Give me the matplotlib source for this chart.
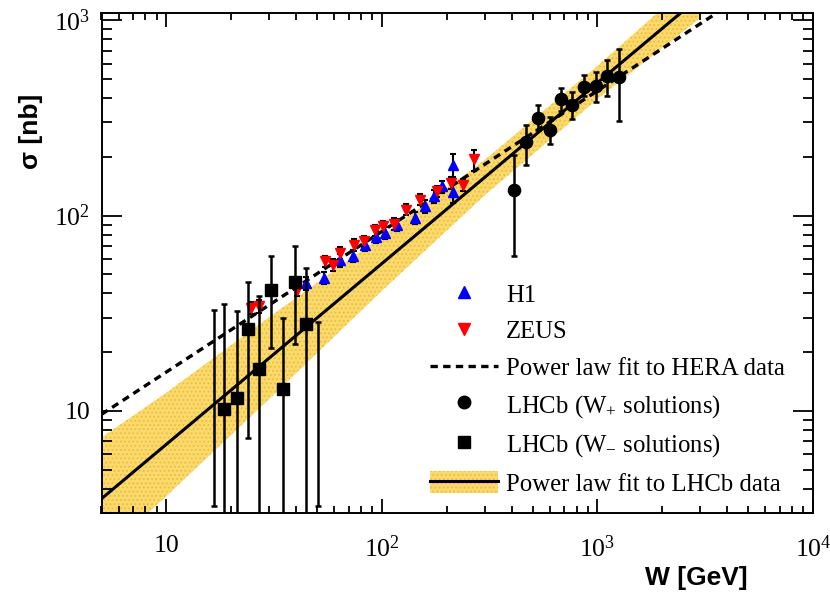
import numpy as np
import matplotlib
matplotlib.use('Agg')
import matplotlib.pyplot as plt
from matplotlib.lines import Line2D
from matplotlib.patches import Patch
from matplotlib.ticker import FixedLocator, FixedFormatter, LogLocator, NullFormatter

plt.rcParams['font.family'] = ['Liberation Serif', 'DejaVu Serif']
plt.rcParams['mathtext.fontset'] = 'custom'
plt.rcParams['mathtext.rm'] = 'Liberation Serif'
plt.rcParams['mathtext.it'] = 'Liberation Serif:italic'
plt.rcParams['mathtext.bf'] = 'Liberation Serif:bold'
plt.rcParams['hatch.linewidth'] = 0.8

# H1 measurements
h1_w = [44.5, 54.1, 64.1, 73.6, 83.7, 93.8, 103.6, 117.7, 141.7, 158.5, 174.6, 190.9, 213.9, 213.9]
h1_sigma = [45.2, 48.0, 59.0, 62.4, 71.0, 77.8, 81.5, 89.9, 97.3, 111.6, 125.6, 141.2, 182.5, 131.6]
h1_err = [3.5, 3.5, 4.5, 4.5, 5.0, 5.5, 6.0, 6.5, 7.0, 8.0, 9.0, 10.0, 24.0, 16.0]

# ZEUS measurements
zeus_w = [24.7, 27.0, 40.4, 54.5, 59.2, 64.1, 73.9, 82.8, 92.9, 100.7, 114.0, 129.2,
          150.3, 181.0, 208.5, 239.0, 267.0]
zeus_sigma = [33.7, 34.3, 41.8, 58.4, 56.1, 64.4, 71.0, 73.8, 84.1, 88.1, 91.0, 107.3,
              120.7, 133.0, 147.0, 144.0, 193.8]
zeus_err = [2.5, 2.5, 3.0, 4.0, 4.0, 4.5, 5.0, 5.0, 5.5, 6.0, 6.5, 7.0, 8.0, 9.0, 10.0, 10.0, 24.0]

# LHCb W+ solutions
wplus_w = [410, 468, 530, 600, 675, 765, 867, 982, 1111, 1256]
wplus_sigma = [135, 238, 315, 275, 396, 370, 456, 463, 517, 511]
wplus_lo = [62.4, 182, 275, 233, 342, 314, 408, 380, 408, 304]
wplus_hi = [205, 290, 369, 320, 451, 428, 523, 542, 624, 714]

# LHCb W- solutions (nan = central value off scale)
wminus_w = [16.6, 18.6, 21.2, 24.0, 27.0, 30.6, 34.9, 39.5, 44.5, 50.4]
wminus_sigma = [np.nan, 10.2, 11.7, 26.4, 16.4, 41.5, 13.0, 45.9, 27.7, np.nan]
wminus_lo = [3.25, 1.0, 1.0, 7.27, 1.0, 21.0, 1.0, 21.9, 1.0, 3.25]
wminus_hi = [32.7, 35.4, 32.6, 45.7, 38.6, 61.9, 29.9, 70.2, 53.6, 28.4]

# power law fits (end points) and LHCb fit band
hera_fit_w = [5, 4000]
hera_fit_sigma = [9.6, 1182]
lhcb_fit_w = [5, 3000]
lhcb_fit_sigma = [3.55, 1324]
band_w = [5, 10, 30, 100, 300, 1000, 3000]
band_lo = [1.8, 3.66, 11.5, 41.2, 127, 395, 1028]
band_hi = [7.3, 12.4, 30.2, 78.5, 193, 584, 1706]

x_ticks = [10, 100, 1000, 10000]
x_labels = ['10', '$10^{2}$', '$10^{3}$', '$10^{4}$']
y_ticks = [10, 100, 1000]
y_labels = ['10', '$10^{2}$', '$10^{3}$']

fig = plt.figure(figsize=(8.3, 5.97), dpi=100)
ax = fig.add_axes([101.5 / 830, 84 / 597, 711.5 / 830, 500 / 597])
ax.set_xscale('log')
ax.set_yscale('log')
ax.set_xlim(5, 1e4)
ax.set_ylim(3, 1090)

band_face = '#FAD970'
band_hatch = '#F2BE2A'
ax.fill_between(band_w, band_lo, band_hi, facecolor=band_face, edgecolor=band_hatch,
                hatch='....', linewidth=0, zorder=1)
ax.plot(lhcb_fit_w, lhcb_fit_sigma, color='black', lw=2.2, zorder=2)
ax.plot(hera_fit_w, hera_fit_sigma, color='black', lw=2.4, ls=(0, (2.2, 1.6)), zorder=2)

ax.errorbar(h1_w, h1_sigma, yerr=h1_err, fmt='^', color='blue', ms=7.5, mec='blue',
            ecolor='black', elinewidth=1.5, capsize=2.5, capthick=1.5, zorder=3)
ax.errorbar(zeus_w, zeus_sigma, yerr=zeus_err, fmt='v', color='red', ms=7.5, mec='red',
            ecolor='black', elinewidth=1.5, capsize=2.5, capthick=1.5, zorder=3)

for w, s, lo, hi, mk in [(wminus_w, wminus_sigma, wminus_lo, wminus_hi, 's'),
                         (wplus_w, wplus_sigma, wplus_lo, wplus_hi, 'o')]:
    ax.vlines(w, lo, hi, color='black', lw=1.8, zorder=4)
    ax.plot(w, lo, ls='none', marker='_', ms=5, mew=1.8, color='black', zorder=4)
    ax.plot(w, hi, ls='none', marker='_', ms=5, mew=1.8, color='black', zorder=4)
    ax.plot(w, s, ls='none', marker=mk, ms=9 if mk == 's' else 8.8, color='black', zorder=5)

# ROOT-like frame and ticks
for sp in ax.spines.values():
    sp.set_linewidth(1.4)
ax.xaxis.set_major_locator(FixedLocator(x_ticks))
ax.xaxis.set_major_formatter(FixedFormatter(x_labels))
ax.yaxis.set_major_locator(FixedLocator(y_ticks))
ax.yaxis.set_major_formatter(FixedFormatter(y_labels))
ax.xaxis.set_minor_locator(LogLocator(base=10, subs=range(2, 10)))
ax.yaxis.set_minor_locator(LogLocator(base=10, subs=range(2, 10)))
ax.xaxis.set_minor_formatter(NullFormatter())
ax.yaxis.set_minor_formatter(NullFormatter())
ax.tick_params(which='both', direction='in', top=True, right=True, width=1.3)
ax.tick_params(axis='x', which='major', length=10, pad=16, labelsize=18.5)
ax.tick_params(axis='x', which='minor', length=5)
ax.tick_params(axis='y', which='major', length=14.5, pad=8, labelsize=18.5)
ax.tick_params(axis='y', which='minor', length=7.2)

ax.set_xlabel('W [GeV]', fontfamily='Liberation Sans', fontweight='bold', fontsize=19,
              va='center')
ax.set_ylabel('σ [nb]', fontfamily='Liberation Sans', fontweight='bold', fontsize=19,
              va='center')
ax.xaxis.set_label_coords(0.8356, -0.13)
ax.yaxis.set_label_coords(-0.099, 0.764)

handles = [
    Line2D([], [], ls='none', marker='^', color='blue', ms=8),
    Line2D([], [], ls='none', marker='v', color='red', ms=8),
    Line2D([], [], color='black', lw=2.4, ls=(0, (2.2, 1.6))),
    Line2D([], [], ls='none', marker='o', color='black', ms=9),
    Line2D([], [], ls='none', marker='s', color='black', ms=9),
    (Patch(facecolor=band_face, edgecolor=band_hatch, hatch='....', lw=0),
     Line2D([], [], color='black', lw=2.2)),
]
labels = ['H1', 'ZEUS', 'Power law fit to HERA data', 'LHCb (W$_{+}$ solutions)',
          'LHCb (W$_{-}$ solutions)', 'Power law fit to LHCb data']
ax.legend(handles, labels, loc='upper left', bbox_to_anchor=(0.4617, 0.462),
          borderaxespad=0, borderpad=0, frameon=False, fontsize=17.8,
          handlelength=2.75, handletextpad=0.33, handleheight=1.0, labelspacing=0.5)

fig.savefig('out.png', dpi=100)
